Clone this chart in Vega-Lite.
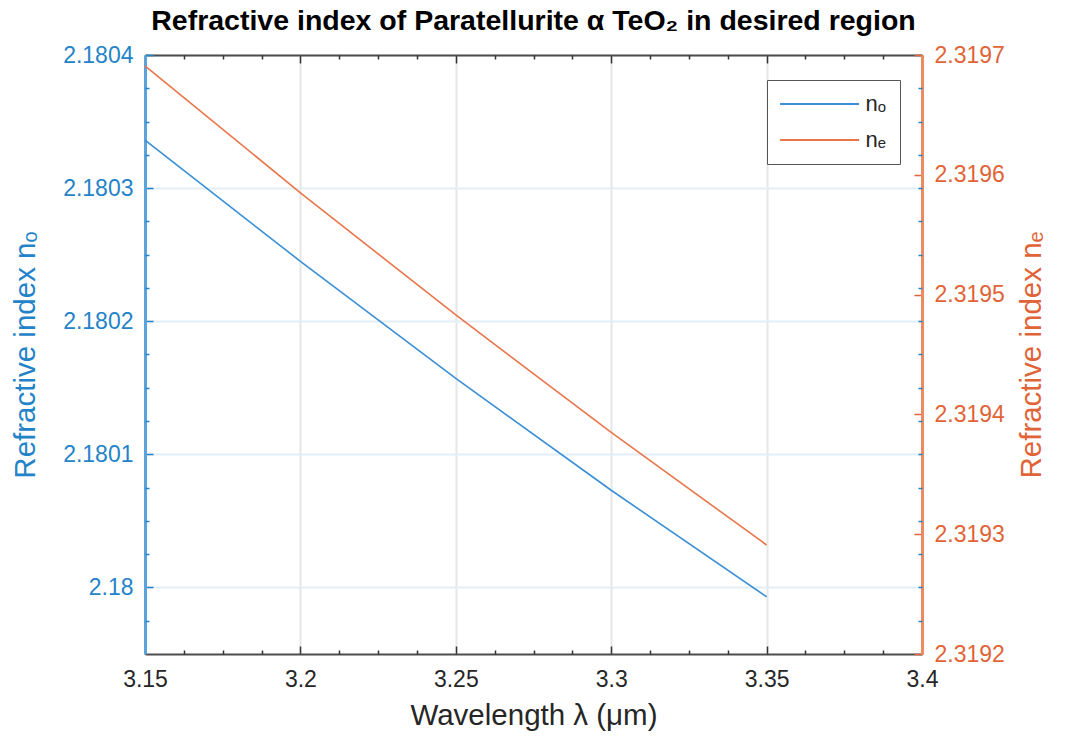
{
  "$schema": "https://vega.github.io/schema/vega-lite/v6.json",
  "width": 777,
  "height": 599,
  "autosize": {"type": "none"},
  "padding": {"left": 145, "top": 55, "right": 143, "bottom": 82},
  "background": "white",
  "title": {
    "text": "Refractive index of Paratellurite α TeO₂ in desired region",
    "font": "Liberation Sans",
    "fontSize": 28.5,
    "fontWeight": "bold",
    "color": "#000000",
    "anchor": "middle",
    "frame": "group",
    "baseline": "bottom",
    "offset": -20
  },
  "config": {
    "view": {"stroke": null},
    "font": "Liberation Sans",
    "axis": {"labelFont": "Liberation Sans", "titleFont": "Liberation Sans", "titleFontWeight": "normal", "labelFlush": false}
  },
  "datasets": {
    "curves": [
      {"lambda": 3.15, "n": 2.180336, "series": "nₒ"},
      {"lambda": 3.20, "n": 2.180245, "series": "nₒ"},
      {"lambda": 3.25, "n": 2.180157, "series": "nₒ"},
      {"lambda": 3.30, "n": 2.180073, "series": "nₒ"},
      {"lambda": 3.35, "n": 2.179993, "series": "nₒ"},
      {"lambda": 3.15, "n": 2.319691, "series": "nₑ"},
      {"lambda": 3.20, "n": 2.319585, "series": "nₑ"},
      {"lambda": 3.25, "n": 2.319483, "series": "nₑ"},
      {"lambda": 3.30, "n": 2.319385, "series": "nₑ"},
      {"lambda": 3.35, "n": 2.319291, "series": "nₑ"}
    ]
  },
  "data": {"name": "curves"},
  "resolve": {"scale": {"y": "independent"}, "axis": {"x": "independent"}},
  "layer": [
    {
      "transform": [{"filter": "datum.series === 'nₒ'"}],
      "mark": {"type": "line", "strokeWidth": 1.6},
      "encoding": {
        "x": {
          "field": "lambda", "type": "quantitative",
          "scale": {"domain": [3.15, 3.4], "nice": false, "zero": false},
          "axis": {
            "orient": "bottom",
            "values": [3.15, 3.2, 3.25, 3.3, 3.35, 3.4],
            "format": ".2~f",
            "title": "Wavelength λ (μm)",
            "titleFontSize": 29.5, "titleColor": "#262626", "titlePadding": 10,
            "labelFontSize": 23, "labelColor": "#262626", "labelPadding": 22,
            "tickSize": -8, "tickColor": "#333333", "tickWidth": 1.5,
            "domainColor": "#4d4d4d", "domainWidth": 2,
            "grid": true, "gridColor": "#e6e6e6", "gridWidth": 2
          }
        },
        "y": {
          "field": "n", "type": "quantitative",
          "scale": {"domain": [2.17995, 2.1804], "nice": false, "zero": false},
          "axis": {
            "orient": "left",
            "values": [2.18, 2.1801, 2.1802, 2.1803, 2.1804],
            "format": ".4~f",
            "title": "Refractive index nₒ",
            "titleFontSize": 29.5, "titleColor": "#2483c8", "titlePadding": 22,
            "labelFontSize": 23, "labelColor": "#2483c8", "labelPadding": 20,
            "tickSize": -8, "tickColor": "#2483c8", "tickWidth": 1.5,
            "domainColor": "#5aa3dc", "domainWidth": 3,
            "grid": true, "gridColor": "#e3eef8", "gridWidth": 2
          }
        },
        "color": {
          "field": "series", "type": "nominal",
          "scale": {"domain": ["nₒ", "nₑ"], "range": ["#3b8fd4", "#e8764a"]},
          "legend": {
            "orient": "none", "legendX": 622, "legendY": 25,
            "title": null,
            "strokeColor": "#555555", "fillColor": "white",
            "padding": 13,
            "labelFont": "Liberation Sans", "labelFontSize": 22, "labelColor": "#262626",
            "labelOffset": 35,
            "symbolType": "M-4,0L4,0", "symbolSize": 390, "symbolStrokeWidth": 2,
            "symbolOffset": 28.6,
            "rowPadding": 14
          }
        }
      }
    },
    {
      "transform": [{"filter": "datum.series === 'nₑ'"}],
      "mark": {"type": "line", "strokeWidth": 1.6},
      "encoding": {
        "x": {
          "field": "lambda", "type": "quantitative",
          "scale": {"domain": [3.15, 3.4], "nice": false, "zero": false},
          "axis": {
            "orient": "top",
            "values": [3.15, 3.2, 3.25, 3.3, 3.35, 3.4],
            "labels": false, "title": null, "grid": false,
            "tickSize": -8, "tickColor": "#333333", "tickWidth": 1.5,
            "domainColor": "#4d4d4d", "domainWidth": 2
          }
        },
        "y": {
          "field": "n", "type": "quantitative",
          "scale": {"domain": [2.3192, 2.3197], "nice": false, "zero": false},
          "axis": {
            "orient": "right",
            "values": [2.3192, 2.3193, 2.3194, 2.3195, 2.3196, 2.3197],
            "format": ".4f",
            "title": "Refractive index nₑ",
            "titleAngle": -90,
            "titleBaseline": "top",
            "titleFontSize": 29.5, "titleColor": "#e06437", "titlePadding": 13,
            "labelFontSize": 23, "labelColor": "#e06437", "labelPadding": 20,
            "tickSize": -8, "tickColor": "#e06437", "tickWidth": 1.5,
            "domainColor": "#ee8a62", "domainWidth": 3,
            "grid": false
          }
        },
        "color": {"field": "series", "type": "nominal"}
      }
    },
    {
      "transform": [{"filter": "datum.series === 'nₒ'"}],
      "mark": {"type": "line", "opacity": 0},
      "encoding": {
        "x": {
          "field": "lambda", "type": "quantitative",
          "scale": {"domain": [3.15, 3.4], "nice": false, "zero": false},
          "axis": {
            "orient": "bottom",
            "values": [3.1625, 3.175, 3.1875, 3.2125, 3.225, 3.2375, 3.2625, 3.275, 3.2875, 3.3125, 3.325, 3.3375, 3.3625, 3.375, 3.3875],
            "labels": false, "title": null, "grid": false, "domain": false,
            "tickSize": -4, "tickColor": "#333333", "tickWidth": 1.5
          }
        },
        "y": {
          "field": "n", "type": "quantitative",
          "scale": {"domain": [2.17995, 2.1804], "nice": false, "zero": false},
          "axis": {
            "orient": "left",
            "values": [2.179975, 2.180025, 2.18005, 2.180075, 2.180125, 2.18015, 2.180175, 2.180225, 2.18025, 2.180275, 2.180325, 2.18035, 2.180375],
            "labels": false, "title": null, "grid": false, "domain": false,
            "tickSize": -4, "tickColor": "#2483c8", "tickWidth": 1.5
          }
        }
      }
    },
    {
      "transform": [{"filter": "datum.series === 'nₒ'"}],
      "mark": {"type": "line", "opacity": 0},
      "encoding": {
        "x": {
          "field": "lambda", "type": "quantitative",
          "scale": {"domain": [3.15, 3.4], "nice": false, "zero": false},
          "axis": {
            "orient": "top",
            "values": [3.1625, 3.175, 3.1875, 3.2125, 3.225, 3.2375, 3.2625, 3.275, 3.2875, 3.3125, 3.325, 3.3375, 3.3625, 3.375, 3.3875],
            "labels": false, "title": null, "grid": false, "domain": false,
            "tickSize": -4, "tickColor": "#333333", "tickWidth": 1.5
          }
        },
        "y": {
          "field": "n", "type": "quantitative",
          "scale": {"domain": [2.17995, 2.1804], "nice": false, "zero": false},
          "axis": {
            "orient": "right",
            "values": [2.179975, 2.18, 2.180025, 2.18005, 2.180075, 2.1801, 2.180125, 2.18015, 2.180175, 2.1802, 2.180225, 2.18025, 2.180275, 2.1803, 2.180325, 2.18035, 2.180375],
            "labels": false, "title": null, "grid": false, "domain": false,
            "tickSize": -4, "tickColor": "#2483c8", "tickWidth": 1.5
          }
        }
      }
    }
  ]
}
